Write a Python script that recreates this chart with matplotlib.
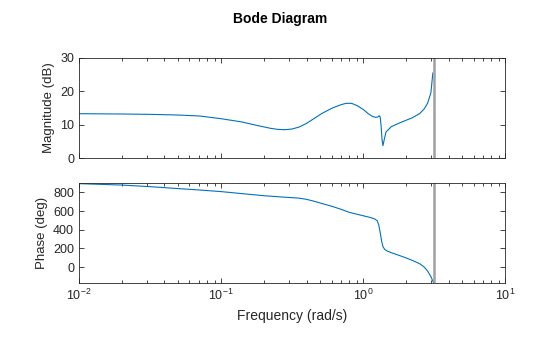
import numpy as np
import matplotlib
matplotlib.use('Agg')
import matplotlib.pyplot as plt

plt.rcParams['font.family'] = ['Liberation Sans', 'DejaVu Sans']
plt.rcParams['mathtext.fontset'] = 'custom'
plt.rcParams['mathtext.rm'] = 'Liberation Sans'
plt.rcParams['mathtext.default'] = 'regular'

# values (frequency in rad/s)
mag_w = [0.01, 0.02, 0.0316, 0.05, 0.0708, 0.1, 0.141, 0.178, 0.224, 0.251, 0.282,
         0.316, 0.355, 0.40, 0.45, 0.51, 0.60, 0.70, 0.76, 0.83, 0.91, 1.0, 1.08,
         1.15, 1.22, 1.27, 1.30, 1.32, 1.34, 1.36, 1.38, 1.41, 1.45, 1.58, 1.8,
         2.0, 2.2, 2.5, 2.7, 2.85, 3.0, 3.1]
mag_db = [13.3, 13.2, 13.1, 12.9, 12.6, 11.8, 10.8, 9.8, 8.9, 8.6, 8.5,
          8.7, 9.3, 10.4, 11.8, 13.3, 14.9, 16.0, 16.4, 16.4, 15.7, 14.6, 13.4,
          12.6, 12.2, 12.3, 12.7, 12.3, 9.5, 5.5, 3.7, 5.6, 7.8, 9.4, 10.5,
          11.3, 12.0, 13.3, 14.8, 16.5, 19.5, 25.5]

ph_w = [0.01, 0.02, 0.0316, 0.05, 0.0708, 0.1, 0.141, 0.2, 0.282, 0.355, 0.40,
        0.45, 0.51, 0.60, 0.70, 0.80, 0.91, 1.0, 1.1, 1.2, 1.26, 1.29, 1.32,
        1.35, 1.38, 1.42, 1.48, 1.6, 1.8, 2.0, 2.24, 2.51, 2.7, 2.85, 3.0, 3.14]
ph_deg = [893, 878, 861, 840, 825, 808, 786, 764, 748, 738, 725,
          706, 682, 652, 619, 586, 565, 550, 535, 518, 495, 450, 370,
          280, 220, 190, 172, 152, 125, 100, 70, 36, 0, -43, -100, -169]

nyq = np.pi
line_c = '#0072BD'
grey = '#A0A0A0'

fig = plt.figure(figsize=(5.6, 3.37), dpi=100)
ax1 = fig.add_axes([0.141, 0.531, 0.761, 0.297])
ax2 = fig.add_axes([0.141, 0.160, 0.761, 0.297])

ax1.semilogx(mag_w, mag_db, color=line_c, lw=0.8)
ax1.axvline(nyq, color=grey, lw=1.8)
ax1.set_ylim(0, 30)
ax1.set_yticks([0, 10, 20, 30])
ax1.set_ylabel('Magnitude (dB)', fontsize=9.5, color='#262626')
ax1.tick_params(labelbottom=False)

ax2.semilogx(ph_w, ph_deg, color=line_c, lw=0.8)
ax2.axvline(nyq, color=grey, lw=1.8)
ax2.set_ylim(-170, 900)
ax2.set_yticks([0, 200, 400, 600, 800])
ax2.set_ylabel('Phase (deg)', fontsize=9.5, color='#262626')
ax2.set_xlabel('Frequency (rad/s)', fontsize=10, color='#262626')

for ax in (ax1, ax2):
    ax.set_xlim(1e-2, 1e1)
    ax.tick_params(which='both', direction='in', top=True, right=True,
                   labelsize=9, colors='#262626', width=0.6)
    ax.tick_params(which='major', length=3.5)
    ax.tick_params(which='minor', length=2)
    for s in ax.spines.values():
        s.set_linewidth(0.6)
        s.set_color('#262626')

fig.suptitle('Bode Diagram', fontsize=10, fontweight='bold', y=0.965)

fig.savefig('out.png', dpi=100)
